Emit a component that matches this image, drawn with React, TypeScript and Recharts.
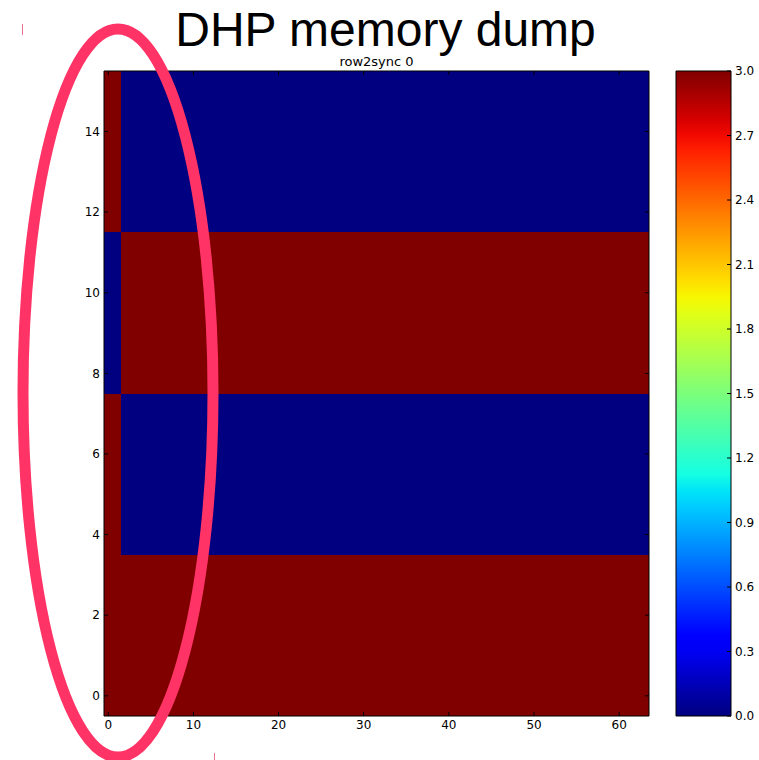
import React from 'react';
import { ComposedChart, XAxis, YAxis, Bar } from 'recharts';

// memory dump: 16 rows x 64 columns, each cell holds 0 or 3
const colCount = 64;
const leadCols = 2;
// value of the first two columns, row 0 at the bottom
const leadValues = [3, 3, 3, 3, 3, 3, 3, 3, 0, 0, 0, 0, 3, 3, 3, 3];
// value of columns 2..63
const restValues = [3, 3, 3, 3, 0, 0, 0, 0, 3, 3, 3, 3, 0, 0, 0, 0];

const xTicks = [0, 10, 20, 30, 40, 50, 60];
const colorTicks = [0, 0.3, 0.6, 0.9, 1.2, 1.5, 1.8, 2.1, 2.4, 2.7, 3.0];
const vMin = 0;
const vMax = 3;

const W = 759;
const H = 760;
const tickFont = '"DejaVu Sans", sans-serif';

// matplotlib "jet" segment data
const jetR: number[][] = [[0, 0], [0.35, 0], [0.66, 1], [0.89, 1], [1, 0.5]];
const jetG: number[][] = [[0, 0], [0.125, 0], [0.375, 1], [0.64, 1], [0.91, 0], [1, 0]];
const jetB: number[][] = [[0, 0.5], [0.11, 1], [0.34, 1], [0.65, 0], [1, 0]];

const channel = (seg: number[][], t: number) => {
  for (let i = 1; i < seg.length; i++) {
    if (t <= seg[i][0]) {
      const [x0, y0] = seg[i - 1];
      const [x1, y1] = seg[i];
      return y0 + ((t - x0) / (x1 - x0)) * (y1 - y0);
    }
  }
  return seg[seg.length - 1][1];
};

const jet = (t: number) => {
  const c = Math.max(0, Math.min(1, t));
  const hex = (v: number) => Math.round(v * 255).toString(16).padStart(2, '0');
  return `#${hex(channel(jetR, c))}${hex(channel(jetG, c))}${hex(channel(jetB, c))}`;
};

const valueColor = (v: number) => jet((v - vMin) / (vMax - vMin));

// one entry per row: the lead block and the rest block as column ranges
const rowData = leadValues.map((lead, row) => ({
  row,
  lead: [-0.5, leadCols - 0.5],
  rest: [leadCols - 0.5, colCount - 0.5],
  leadValue: lead,
  restValue: restValues[row],
}));

const colorbarData = [{ name: 'cb', range: [vMin, vMax] }];

// bar heights come out whole-pixel, so widen each band outwards to the
// next pixel edge; neighbouring rows then meet without a seam
const cellShape = (key: 'leadValue' | 'restValue') => (p: any) => {
  const x0 = Math.round(p.x);
  const x1 = Math.round(p.x + p.width);
  const y0 = Math.floor(p.y);
  const y1 = Math.ceil(p.y + p.height);
  return (
    <rect
      x={x0}
      y={y0}
      width={x1 - x0}
      height={y1 - y0}
      fill={valueColor(p.payload[key])}
      shapeRendering="crispEdges"
    />
  );
};

const BottomTick = (props: any) => {
  const { x, y, payload } = props;
  return (
    <g>
      <line x1={x} x2={x} y1={y - 4} y2={y - 8} stroke="#000" />
      <text x={x} y={y} dy="0.71em" textAnchor="middle" fontFamily={tickFont} fontSize={12} fill="#000">
        {payload.value}
      </text>
    </g>
  );
};

const LeftTick = (props: any) => {
  const { x, y, payload } = props;
  if (payload.value % 2 !== 0) return <g />;
  return (
    <g>
      <line x1={x + 4} x2={x + 8} y1={y} y2={y} stroke="#000" />
      <text x={x} y={y} dy="0.355em" textAnchor="end" fontFamily={tickFont} fontSize={12} fill="#000">
        {payload.value}
      </text>
    </g>
  );
};

const TopTick = (props: any) => {
  const { x, y } = props;
  return <line x1={x} x2={x} y1={y} y2={y + 4} stroke="#000" />;
};

const RightTick = (props: any) => {
  const { x, y, payload } = props;
  if (payload.value % 2 !== 0) return <g />;
  return <line x1={x} x2={x - 4} y1={y} y2={y} stroke="#000" />;
};

const ColorTick = (props: any) => {
  const { x, y, payload } = props;
  return (
    <g>
      <line x1={x - 4} x2={x - 8} y1={y} y2={y} stroke="#000" />
      <text x={x} y={y} dy="0.355em" textAnchor="start" fontFamily={tickFont} fontSize={12} fill="#000">
        {Number(payload.value).toFixed(1)}
      </text>
    </g>
  );
};

const gradientStops = Array.from({ length: 41 }, (_, i) => i / 40);

export default function App() {
  return (
    <div style={{ position: 'absolute', left: 0, top: 0, width: W, height: H, background: '#fff' }}>
      <svg width={0} height={0} style={{ position: 'absolute' }}>
        <defs>
          <linearGradient id="jetBar" x1="0" y1="1" x2="0" y2="0">
            {gradientStops.map((t) => (
              <stop key={t} offset={t} stopColor={jet(t)} />
            ))}
          </linearGradient>
        </defs>
      </svg>

      {/* heatmap: each row is a band, each block a range bar */}
      <div style={{ position: 'absolute', left: 0, top: 0 }}>
        <ComposedChart
          width={W}
          height={H}
          data={rowData}
          layout="vertical"
          barCategoryGap={0}
          barGap={0}
          margin={{ top: 70, right: 109, bottom: 24, left: 74 }}
        >
          <XAxis
            xAxisId="b"
            type="number"
            domain={[-0.5, colCount - 0.5]}
            ticks={xTicks}
            allowDataOverflow
            height={20}
            tickSize={0}
            tickMargin={4}
            tickLine={false}
            axisLine={{ stroke: '#000' }}
            tick={<BottomTick />}
            interval={0}
          />
          <XAxis
            xAxisId="t"
            orientation="top"
            type="number"
            domain={[-0.5, colCount - 0.5]}
            ticks={xTicks}
            allowDataOverflow
            height={1}
            tickSize={0}
            tickMargin={0}
            tickLine={false}
            axisLine={{ stroke: '#000' }}
            tick={<TopTick />}
            interval={0}
          />
          <YAxis
            yAxisId="l"
            type="category"
            dataKey="row"
            reversed
            width={30}
            tickSize={0}
            tickMargin={4}
            tickLine={false}
            axisLine={{ stroke: '#000' }}
            tick={<LeftTick />}
            interval={0}
          />
          <YAxis
            yAxisId="r"
            orientation="right"
            type="category"
            dataKey="row"
            reversed
            width={1}
            tickSize={0}
            tickMargin={0}
            tickLine={false}
            axisLine={{ stroke: '#000' }}
            tick={<RightTick />}
            interval={0}
          />
          <Bar
            dataKey="lead"
            xAxisId="b"
            yAxisId="l"
            isAnimationActive={false}
            shape={cellShape('leadValue')}
          />
          <Bar
            dataKey="rest"
            xAxisId="b"
            yAxisId="r"
            isAnimationActive={false}
            shape={cellShape('restValue')}
          />
        </ComposedChart>
      </div>

      {/* colorbar */}
      <div style={{ position: 'absolute', left: 0, top: 0 }}>
        <ComposedChart
          width={W}
          height={H}
          data={colorbarData}
          barCategoryGap={0}
          margin={{ top: 71, right: 27, bottom: 44, left: 676 }}
        >
          <XAxis dataKey="name" type="category" hide />
          <YAxis
            orientation="right"
            type="number"
            domain={[vMin, vMax]}
            ticks={colorTicks}
            width={1}
            tickSize={0}
            tickMargin={4}
            tickLine={false}
            axisLine={false}
            tick={<ColorTick />}
            interval={0}
          />
          <Bar dataKey="range" fill="url(#jetBar)" stroke="#000" strokeWidth={1} isAnimationActive={false} />
        </ComposedChart>
      </div>

      {/* titles and pen annotation */}
      <svg width={W} height={H} style={{ position: 'absolute', left: 0, top: 0, pointerEvents: 'none' }}>
        <text x={385.5} y={46} textAnchor="middle" fontFamily='"Liberation Sans", Arial, sans-serif' fontSize={48} fill="#000">
          DHP memory dump
        </text>
        <text x={376.5} y={66} textAnchor="middle" fontFamily={tickFont} fontSize={13} fill="#000">
          row2sync 0
        </text>
        <ellipse cx={118} cy={393} rx={95} ry={364} fill="none" stroke="#ff3366" strokeWidth={11} />
        <line x1={22.5} x2={22.5} y1={24} y2={35} stroke="#f07090" strokeWidth={1} />
        <line x1={214.5} x2={214.5} y1={753} y2={760} stroke="#f07090" strokeWidth={1} />
      </svg>
    </div>
  );
}
